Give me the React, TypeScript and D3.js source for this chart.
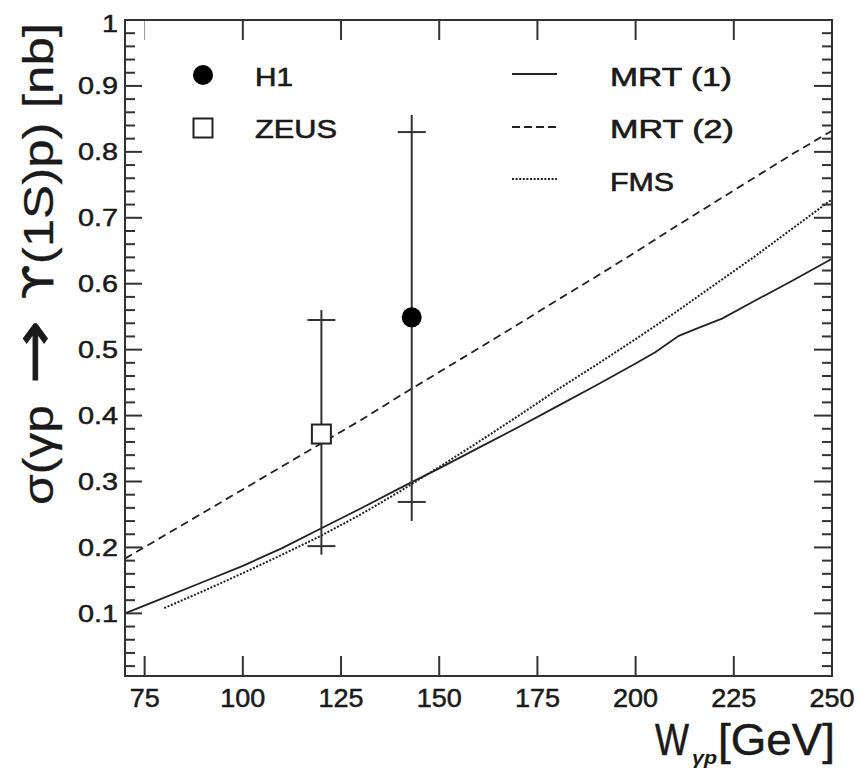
import React from "react";
import * as d3 from "d3";

// ---- data ----
const mrt1W = [70, 80, 90, 100, 110, 120, 130, 140, 150, 160, 170, 180, 190, 200, 205, 211, 216, 222, 230, 240, 250];
const mrt1S = [0.100, 0.124, 0.148, 0.172, 0.199, 0.229, 0.259, 0.290, 0.320, 0.351, 0.382, 0.414, 0.446, 0.479, 0.496, 0.521, 0.533, 0.547, 0.573, 0.605, 0.638];

const mrt2W = [70, 80, 90, 100, 110, 120, 130, 140, 150, 160, 170, 180, 190, 200, 210, 220, 230, 240, 250];
const mrt2S = [0.183, 0.218, 0.253, 0.288, 0.323, 0.358, 0.393, 0.430, 0.466, 0.502, 0.538, 0.575, 0.611, 0.648, 0.686, 0.723, 0.760, 0.797, 0.832];

const fmsW = [80, 90, 100, 110, 120, 130, 140, 150, 160, 170, 180, 190, 200, 210, 220, 230, 240, 250];
const fmsS = [0.108, 0.134, 0.161, 0.189, 0.218, 0.250, 0.285, 0.322, 0.360, 0.399, 0.439, 0.477, 0.516, 0.556, 0.598, 0.640, 0.684, 0.728];

// measurements: W, sigma, stat low/high (caps), total low/high (line)
const expNames = ["ZEUS", "H1"];
const expW = [120, 143];
const expS = [0.372, 0.549];
const expStatLo = [0.202, 0.269];
const expStatHi = [0.545, 0.830];
const expTotLo = [0.189, 0.240];
const expTotHi = [0.560, 0.856];

const xTicks = [75, 100, 125, 150, 175, 200, 225, 250];
const yTicks = [0.1, 0.2, 0.3, 0.4, 0.5, 0.6, 0.7, 0.8, 0.9, 1];
const yTickLabels = ["0.1", "0.2", "0.3", "0.4", "0.5", "0.6", "0.7", "0.8", "0.9", "1"];

const legendLines = ["MRT (1)", "MRT (2)", "FMS"];
const legendPoints = ["H1", "ZEUS"];

// ---- layout ----
const W = 859, H = 768;
const L = 125, R = 832, T = 20, B = 676;
const FONT = "'Liberation Sans', Arial, Helvetica, sans-serif";
const INK = "#1a1a1a";

export default function App() {
  const x = d3.scaleLinear().domain([70, 250]).range([L, R]);
  const y = d3.scaleLinear().domain([0.005, 1]).range([B, T]);

  const line = (ws: number[], ss: number[]) =>
    d3.line<number>().x((_, i) => x(ws[i])).y((d) => y(d))(ss) || "";

  const minor = d3.range(0.02, 1.0001, 0.02).filter((v) => Math.abs(Math.round(v * 10) - v * 10) > 1e-6);

  const stretched = (
    txt: string, px: number, py: number, size: number, sx: number,
    anchor: "start" | "middle" | "end" = "middle"
  ) => (
    <text
      key={txt + px + py}
      transform={`translate(${px},${py}) scale(${sx},1)`}
      fontFamily={FONT}
      fontSize={size}
      textAnchor={anchor}
      fill={INK}
      stroke={INK}
      strokeWidth={0.5}
    >
      {txt}
    </text>
  );

  const legendText = (txt: string, px: number, py: number, len: number) => (
    <text x={px} y={py} fontFamily={FONT} fontSize={25} fill={INK} stroke={INK} strokeWidth={0.6}
      textLength={len} lengthAdjust="spacingAndGlyphs">{txt}</text>
  );

  // rotated y-title pieces: text runs upward from `start` (bottom) with given length
  const titlePiece = (content: React.ReactNode, start: number, len: number, size: number, extra: any = {}) => (
    <text
      transform={`translate(53,${start}) rotate(-90)`}
      fontFamily={FONT}
      fontSize={size}
      fill={INK}
      stroke={INK}
      strokeWidth={0.3}
      textLength={len}
      lengthAdjust="spacingAndGlyphs"
      {...extra}
    >
      {content}
    </text>
  );

  return (
    <svg width={W} height={H} style={{ position: "absolute", left: 0, top: 0, background: "#fff" }}>
      <rect x={0} y={0} width={W} height={H} fill="#fff" />

      {/* curves */}
      <path d={line(mrt1W, mrt1S)} fill="none" stroke="#222" strokeWidth={1.8} />
      <path d={line(mrt2W, mrt2S)} fill="none" stroke="#222" strokeWidth={1.8} strokeDasharray="8,5" />
      <path d={line(fmsW, fmsS)} fill="none" stroke="#222" strokeWidth={2} strokeDasharray="2,1.6" />

      {/* frame */}
      <rect x={L} y={T} width={R - L} height={B - T} fill="none" stroke="#333" strokeWidth={2} />

      {/* x ticks (bottom & top, inward) */}
      {xTicks.filter((t) => t < 250).map((t) => (
        <g key={"xt" + t}>
          <line x1={x(t)} x2={x(t)} y1={B} y2={B - 20} stroke="#333" strokeWidth={2} />
          <line x1={x(t)} x2={x(t)} y1={T} y2={T + 20} stroke="#333" strokeWidth={t === 75 ? 1 : 2} opacity={t === 75 ? 0.5 : 1} />
        </g>
      ))}
      {/* y ticks (left & right, inward) */}
      {yTicks.filter((t) => t < 1).map((t) => (
        <g key={"yt" + t}>
          <line x1={L} x2={L + 17} y1={y(t)} y2={y(t)} stroke="#333" strokeWidth={2} />
          <line x1={R} x2={R - 18} y1={y(t)} y2={y(t)} stroke="#333" strokeWidth={2} />
        </g>
      ))}
      {minor.map((t) => (
        <g key={"ym" + t}>
          <line x1={L} x2={L + 10} y1={y(t)} y2={y(t)} stroke="#333" strokeWidth={2} />
          <line x1={R} x2={R - 10} y1={y(t)} y2={y(t)} stroke="#333" strokeWidth={2} />
        </g>
      ))}

      {/* tick labels */}
      {xTicks.map((t) => stretched(String(t), x(t), 707, 25, 1.08, "middle"))}
      {yTicks.map((t, i) =>
        stretched(yTickLabels[i], 118, t === 1 ? 32 : y(t) + 8.5, 24, 1.2, "end")
      )}

      {/* x-axis title */}
      <text x={655} y={755} fontFamily={FONT} fontSize={45} fill={INK} stroke={INK} strokeWidth={0.5} textLength={34} lengthAdjust="spacingAndGlyphs">W</text>
      <text x={692} y={764} fontFamily={FONT} fontSize={18} fontStyle="italic" fontWeight="bold" fill={INK} textLength={25} lengthAdjust="spacingAndGlyphs">γp</text>
      <text x={718} y={755} fontFamily={FONT} fontSize={45} fill={INK} stroke={INK} strokeWidth={0.5} textLength={117} lengthAdjust="spacingAndGlyphs">[GeV]</text>

      {/* y-axis title, drawn in three runs */}
      {titlePiece("σ(γp", 505, 100, 42)}
      {titlePiece("→", 384, 64, 56, { fontFamily: "'DejaVu Sans', sans-serif", strokeWidth: 1 })}
      {titlePiece(
        <>
          <tspan fontFamily="'DejaVu Sans', sans-serif" fontWeight="normal">ϒ</tspan>
          <tspan>(1S)p) [nb]</tspan>
        </>,
        300, 277, 42
      )}

      {/* error bars */}
      {expNames.map((n, i) => (
        <g key={"e" + n} stroke="#333" strokeWidth={2}>
          <line x1={x(expW[i])} x2={x(expW[i])} y1={y(expTotHi[i])} y2={y(expTotLo[i])} />
          <line x1={x(expW[i]) - 14} x2={x(expW[i]) + 14} y1={y(expStatHi[i])} y2={y(expStatHi[i])} />
          <line x1={x(expW[i]) - 14} x2={x(expW[i]) + 14} y1={y(expStatLo[i])} y2={y(expStatLo[i])} />
        </g>
      ))}
      {/* markers */}
      {expNames.map((n, i) =>
        n === "H1" ? (
          <circle key={"m" + n} cx={x(expW[i])} cy={y(expS[i])} r={10} fill="#000" />
        ) : (
          <rect key={"m" + n} x={x(expW[i]) - 9.5} y={y(expS[i]) - 9.5} width={19} height={19} fill="#fff" stroke="#222" strokeWidth={2} />
        )
      )}

      {/* legend: points */}
      <circle cx={203} cy={75} r={10} fill="#000" />
      <rect x={193.5} y={118.5} width={19} height={19} fill="#fff" stroke="#222" strokeWidth={2} />
      {legendText(legendPoints[0], 255, 86, 38)}
      {legendText(legendPoints[1], 255, 138, 82)}

      {/* legend: lines */}
      <line x1={512} x2={557} y1={74} y2={74} stroke="#222" strokeWidth={1.8} />
      <line x1={512} x2={557} y1={127} y2={127} stroke="#222" strokeWidth={1.8} strokeDasharray="8,4" />
      <line x1={512} x2={557} y1={179} y2={179} stroke="#222" strokeWidth={2} strokeDasharray="2,1.6" />
      {legendText(legendLines[0], 610, 86, 122)}
      {legendText(legendLines[1], 610, 138, 124)}
      {legendText(legendLines[2], 610, 191, 64)}
    </svg>
  );
}
